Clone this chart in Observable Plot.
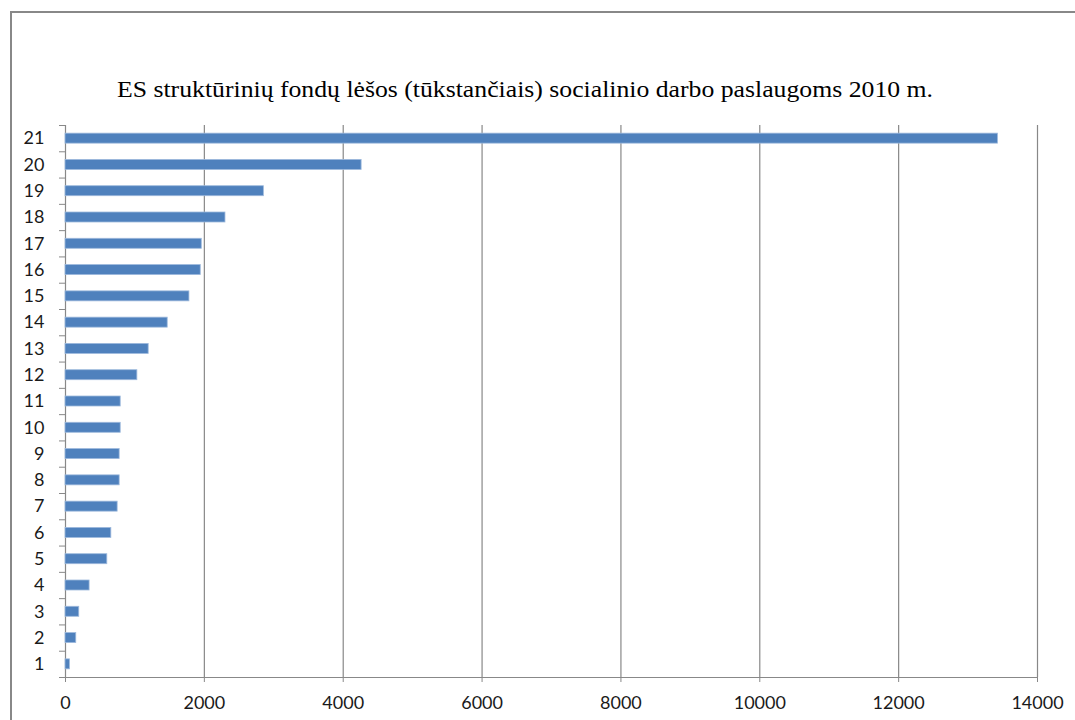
<!DOCTYPE html>
<html>
<head>
<meta charset="utf-8">
<script src="https://cdn.jsdelivr.net/npm/d3@7"></script>
<script src="https://cdn.jsdelivr.net/npm/@observablehq/plot@0.6"></script>
<style>
  body { margin: 0; background: #fff; }
  #wrap { position: relative; width: 1075px; height: 720px; overflow: hidden; background: #fff; }
  #frame { position: absolute; left: 10px; top: 11px; width: 1200px; height: 900px; border: 2px solid #888888; box-sizing: border-box; }
  #title { position: absolute; left: 0; top: 0; }
  #chart { position: absolute; left: 0; top: 0; }
  #title text { font-family: "Liberation Serif", "Times New Roman", serif; }
</style>
</head>
<body>
<div id="wrap">
  <div id="frame"></div>
  <div id="chart"></div>
  <svg id="title" width="1075" height="130">
    <text x="525" y="97" text-anchor="middle" font-size="23" fill="#000" textLength="816" lengthAdjust="spacingAndGlyphs">ES struktūrinių fondų lėšos (tūkstančiais) socialinio darbo paslaugoms 2010 m.</text>
  </svg>
</div>
<script>
const categories = ["1","2","3","4","5","6","7","8","9","10","11","12","13","14","15","16","17","18","19","20","21"];
const values = [64, 155, 198, 347, 602, 660, 751, 780, 780, 795, 795, 1035, 1198, 1472, 1785, 1948, 1963, 2304, 2857, 4265, 13430];
const xTicks = [0, 2000, 4000, 6000, 8000, 10000, 12000, 14000];

const rows = categories.map((c, i) => ({pos: i + 1, label: c, value: values[i]}));
const half = 0.19;
const gray = "#888888";
const boundaries = d3.range(0.5, categories.length + 1, 1);

const plot = Plot.plot({
  width: 1075,
  height: 720,
  marginLeft: 65,
  marginRight: 38,
  marginTop: 125,
  marginBottom: 43,
  style: {background: "transparent", overflow: "visible", fontFamily: "Lato, sans-serif", fontSize: "18px", color: "#1a1a1a"},
  x: {domain: [0, 14000]},
  y: {domain: [0.5, categories.length + 0.5]},
  marks: [
    Plot.ruleX(xTicks, {stroke: gray, strokeWidth: 1.2, strokeOpacity: 1}),
    Plot.ruleY([0.5], {stroke: gray, strokeWidth: 1.2}),
    Plot.rectX(rows, {
      x1: 0,
      x2: "value",
      y1: d => d.pos - half,
      y2: d => d.pos + half,
      fill: "#4F81BD",
      stroke: "#9DB9DC",
      strokeWidth: 0.8,
      inset: 0
    }),
    Plot.axisX({
      ticks: xTicks,
      tickFormat: d3.format("d"),
      tickSize: 5,
      tickPadding: 14,
      stroke: gray,
      label: null
    }),
    Plot.axisY({
      ticks: rows.map(d => d.pos),
      tickFormat: p => categories[p - 1],
      tickSize: 0,
      tickPadding: 21,
      label: null
    }),
    Plot.axisY({
      ticks: boundaries,
      tickFormat: () => "",
      tickSize: 6,
      stroke: gray,
      label: null
    })
  ]
});
document.getElementById("chart").appendChild(plot);
</script>
</body>
</html>
